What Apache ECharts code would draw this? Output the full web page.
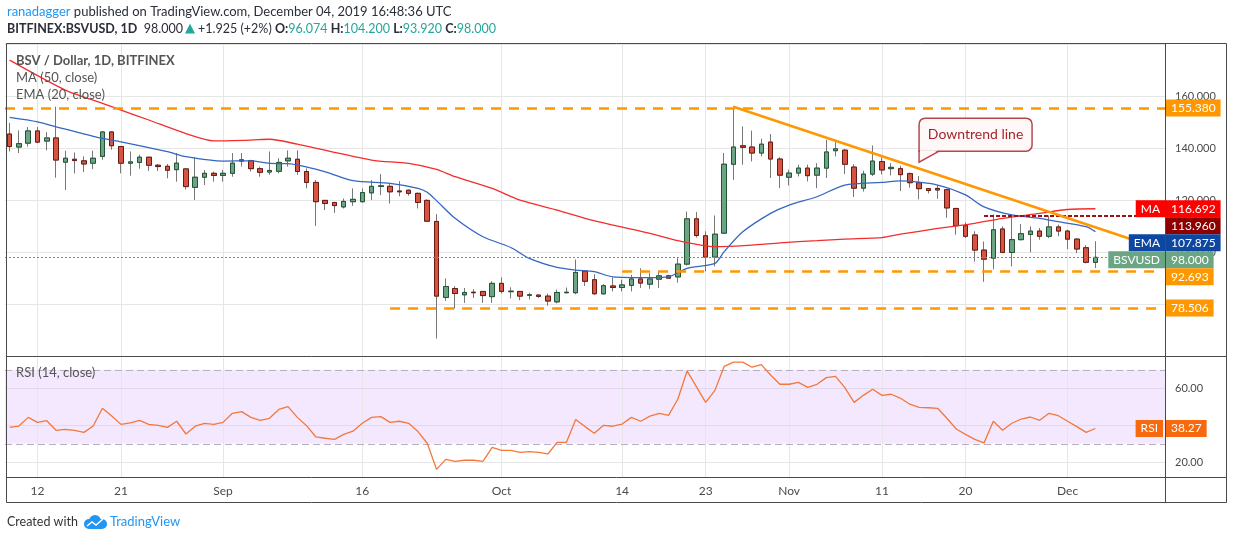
<!DOCTYPE html>
<html>
<head>
<meta charset="utf-8">
<title>BSV / Dollar, 1D</title>
<script src="https://cdn.jsdelivr.net/npm/echarts@6/dist/echarts.min.js"></script>
<style>
  html, body { margin: 0; padding: 0; background: #fff; }
  #chart { width: 1234px; height: 540px; }
</style>
</head>
<body>
<div id="chart"></div>
<script>
// BSV/USD daily candles (Bitfinex), 9 Aug - 4 Dec 2019
const firstDay = Date.UTC(2019, 7, 9);
const emptyDaysAfter = 7;

const opens = [
  145.4,140.4,141.9,146.6,142.7,143.9,134.6,135.7,135.1,134.2,136.8,146.2,140.6,134.2,134.5,136.5,133.4,133.0,131.7,132.0,124.9,128.8,130.3,
  129.5,130.3,135.0,135.2,132.1,130.8,131.1,135.1,135.7,131.0,126.8,119.9,119.1,117.4,119.4,119.4,122.8,125.3,125.3,123.5,123.8,122.6,119.9,111.8,82.6,86.0,83.6,84.6,84.9,82.9,
  88.0,84.8,84.9,83.4,83.5,83.1,80.9,84.4,84.4,92.7,89.4,84.0,87.0,86.4,87.2,89.7,87.7,89.6,90.9,90.5,95.4,112.8,106.3,98.1,107.3,133.8,140.9,140.4,138.1,142.3,135.8,
  128.8,130.4,132.3,129.6,132.3,139.0,139.2,132.7,124.6,130.0,134.8,132.1,132.1,130.2,126.7,124.4,124.5,124.0,116.8,110.2,106.6,100.8,97.7,108.9,99.9,104.8,106.8,108.1,106.1,109.7,
  108.1,105.0,101.7,96.074
];
const highs = [
  149.7,146.8,148.1,148.1,146.1,155.9,139.0,138.3,136.8,139.0,146.5,146.5,140.8,138.7,137.4,136.6,133.9,133.9,138.1,132.1,136.5,131.6,131.0,
  131.6,138.1,138.1,135.5,132.9,138.7,136.1,139.1,139.1,132.2,127.7,120.0,119.2,120.6,124.5,124.5,127.7,130.0,126.4,127.3,124.1,122.9,120.3,114.6,89.9,86.9,86.2,85.8,85.0,88.8,
  90.3,86.5,85.1,84.4,83.6,84.1,85.6,86.4,97.2,92.8,91.5,87.7,90.3,89.4,91.3,93.8,91.9,92.8,91.3,97.7,115.6,115.4,108.0,114.1,138.1,156.0,148.3,146.7,143.6,145.4,136.5,
  131.7,133.6,133.6,134.2,143.2,142.3,139.7,133.8,131.3,141.0,136.4,134.2,133.2,130.6,129.3,124.6,125.7,124.4,117.0,111.5,108.0,104.1,114.5,109.9,113.2,110.8,109.9,109.3,114.1,110.6,
  108.6,105.4,102.7,104.2
];
const lows = [
  138.7,138.1,140.6,141.9,139.1,128.6,123.9,130.3,130.8,131.9,135.5,139.4,130.3,129.4,132.1,131.2,131.2,128.4,127.1,124.1,120.0,125.8,127.1,
  127.1,129.0,132.9,131.0,129.0,129.7,130.3,132.9,129.7,124.5,110.1,116.2,115.1,116.8,117.8,119.0,120.0,121.9,118.7,121.5,121.7,116.8,111.7,66.8,81.3,78.3,80.5,82.4,80.5,80.5,
  84.1,82.2,81.5,81.8,82.4,79.4,80.3,84.1,83.8,87.0,83.6,83.6,84.9,84.9,84.9,86.2,85.9,86.2,89.7,88.3,94.9,105.6,92.6,94.5,107.1,127.8,133.6,134.9,136.8,128.5,124.6,
  125.6,129.1,127.2,124.6,128.5,136.8,130.0,121.2,123.3,129.3,129.9,129.5,123.5,124.8,120.3,122.6,120.5,113.2,106.7,105.4,96.4,88.6,93.4,99.6,94.5,104.5,99.9,104.8,105.4,106.1,
  101.2,99.6,95.7,93.92
];
const closes = [
  140.6,141.7,146.6,142.3,143.9,135.4,136.1,135.2,133.9,136.1,146.2,140.9,134.2,134.7,136.5,133.4,132.9,131.5,134.2,125.2,128.8,130.3,129.5,
  130.3,134.2,135.5,132.1,130.7,131.4,134.5,136.1,131.0,126.8,119.4,118.7,117.9,119.5,120.3,122.9,125.3,125.5,123.2,123.2,122.6,119.1,111.9,83.1,86.8,84.1,84.5,84.4,83.3,88.0,
  84.9,85.0,83.1,83.6,83.0,81.2,84.5,84.6,92.2,88.8,84.0,87.1,86.4,87.4,89.7,88.1,89.7,90.9,90.0,95.4,112.8,106.4,98.1,106.9,133.8,140.4,140.3,138.1,141.5,135.8,129.6,
  130.4,132.3,129.4,132.3,138.5,139.7,133.8,124.6,130.0,135.0,131.6,132.6,129.8,126.7,124.4,123.7,123.9,117.0,110.2,106.1,100.8,97.3,108.6,99.9,104.8,107.1,108.1,106.1,109.7,108.1,
  105.0,101.2,96.075,98.0
];

// MA (50) and EMA (20) at these days
const maDays = ['08-09','08-15','08-19','08-21','08-24','08-28','08-31','09-04','09-06','09-09','09-17','09-21','09-24','09-26','09-30',
  '10-03','10-07','10-10','10-13','10-17','10-20','10-24','10-28','10-31','11-04','11-07','11-11','11-13','11-17','11-21','11-24','11-28','12-01','12-04'];
const maValues = [173.8,162.3,157.2,154.6,150.8,145.6,142.8,143.1,143.4,141.5,135.4,134.1,131.8,129.0,124.5,
  120.0,116.2,113.0,110.4,107.2,104.4,102.1,102.7,103.6,104.4,105.0,105.6,106.9,109.1,111.1,113.0,114.9,116.4,116.692];
const emaDays = ['08-09','08-12','08-14','08-19','08-21','08-26','08-28','09-01','09-04','09-06','09-08','09-12','09-15','09-19','09-22','09-23','09-24','09-26','09-29',
  '10-02','10-04','10-07','10-09','10-11','10-13','10-17','10-19','10-21','10-24','10-25','10-27','10-30',
  '11-01','11-04','11-07','11-11','11-13','11-17','11-20','11-22','11-25','11-28','11-30','12-03','12-04'];
const emaValues = [151.8,150.1,148.2,143.7,142.4,138.6,136.7,135.0,135.1,134.1,134.0,130.9,127.5,126.4,124.5,123.0,119.8,113.0,105.9,
  101.8,97.6,94.1,93.1,92.5,90.5,90.2,90.5,93.8,95.7,100.2,107.8,114.9,
  118.1,121.3,125.8,126.8,127.4,125.8,122.0,117.4,114.3,113.0,111.7,109.8,107.875];

// RSI (14), one value per candle
const rsiValues = [
  38.9,39.6,44.3,41.6,42.5,37.3,37.8,37.3,36.2,39.6,49.2,45.0,40.5,41.3,42.7,40.5,40.0,38.9,42.2,35.3,39.5,41.1,40.5,
  41.6,46.5,47.4,44.3,42.7,43.8,48.6,50.1,44.3,39.8,33.7,33.0,32.4,35.1,36.8,41.1,44.3,44.7,41.6,42.2,41.1,36.6,30.3,16.2,21.6,20.5,21.1,21.1,20.5,28.1,
  26.5,26.5,25.4,25.8,25.4,24.5,30.8,30.8,43.2,39.3,35.7,40.0,39.5,40.7,44.3,42.2,45.0,46.5,45.4,54.1,69.4,60.9,52.4,58.9,71.9,74.2,74.2,71.4,72.8,67.2,62.2,
  62.2,63.2,60.5,62.2,65.8,66.5,60.4,52.4,56.2,59.5,56.2,56.8,54.6,51.4,49.7,49.5,49.2,43.8,38.0,35.1,32.4,30.5,42.2,37.3,41.1,43.4,44.5,42.7,46.5,45.2,
  42.2,39.3,36.2,38.27
];

const tickDates = ['2019-08-12','2019-08-21','2019-09-01','2019-09-16','2019-10-01','2019-10-14','2019-10-23','2019-11-01','2019-11-11','2019-11-20','2019-12-01'];
const tickLabels = ['12','21','Sep','16','Oct','14','23','Nov','11','20','Dec'];

// drawn levels
const resistance = 155.38;
const support = 92.693;
const supportStart = '2019-10-14';
const lowSupport = 78.506;
const lowSupportStart = '2019-09-19';
const overhead = 113.96;
const overheadStart = '2019-11-22';
const trendStart = ['2019-10-26', 155.9];
const trendEnd = ['2019-12-09', 103.6];
const calloutAt = ['2019-11-15', 134.6];

const n = opens.length;
const dates = [];
for (let i = 0; i < n + emptyDaysAfter; i++) {
  dates.push(new Date(firstDay + i * 86400000).toISOString().slice(0, 10));
}
const lastDate = dates[dates.length - 1];
const lastClose = closes[n - 1];
const lastMA = maValues[maValues.length - 1];
const lastEMA = emaValues[emaValues.length - 1];
const lastRSI = rsiValues[n - 1];

const candles = opens.map((o, i) => [o, closes[i], lows[i], highs[i]]);
const bodies = opens.map((o, i) => [o, closes[i], Math.min(o, closes[i]), Math.max(o, closes[i])]);
const pairs = (days, vals) => days.map((d, i) => ['2019-' + d, vals[i]]);

const FONT = 'Lato, "Open Sans", sans-serif';
const GRID_COLOR = '#e6e6e6';
const ORANGE = '#ff9800';

const vLines = tickDates.map(d => ({ xAxis: d }));

const chart = echarts.init(document.getElementById('chart'));

const option = {
  animation: false,
  textStyle: { fontFamily: FONT },
  grid: [
    { left: 5, right: 69, top: 43, height: 313.2 },
    { left: 5, right: 69, top: 358, height: 119 }
  ],
  xAxis: [
    { type: 'category', gridIndex: 0, data: dates, boundaryGap: true,
      axisLine: { show: false }, axisTick: { show: false }, axisLabel: { show: false }, splitLine: { show: false } },
    { type: 'category', gridIndex: 1, data: dates, boundaryGap: true,
      axisLine: { show: false }, axisTick: { show: false }, splitLine: { show: false },
      axisLabel: {
        color: '#4a4a4a', fontSize: 12, margin: 8,
        interval: (i, v) => tickDates.includes(v),
        formatter: v => tickLabels[tickDates.indexOf(v)] || ''
      } }
  ],
  yAxis: [
    { type: 'value', gridIndex: 0, position: 'right', min: 60, max: 180.4, interval: 20, scale: true,
      axisLine: { show: false }, axisTick: { show: false },
      axisLabel: { color: '#4a4a4a', fontSize: 11, margin: 10,
        formatter: v => (v <= 60 || v >= 180) ? '' : v.toFixed(3) },
      splitLine: { lineStyle: { color: GRID_COLOR } } },
    { type: 'value', gridIndex: 1, position: 'right', min: 12.05, max: 76.4,
      axisLine: { show: false }, axisTick: { show: false }, axisLabel: { show: false }, splitLine: { show: false } }
  ],
  series: [
    { // vertical grid, price pane
      type: 'line', xAxisIndex: 0, yAxisIndex: 0, data: [], z: 1, silent: true,
      markLine: { z: 1, silent: true, symbol: ['none', 'none'], label: { show: false },
        lineStyle: { color: GRID_COLOR, type: 'solid', width: 1 }, data: vLines }
    },
    { // vertical + level grid, RSI pane
      type: 'line', xAxisIndex: 1, yAxisIndex: 1, data: [], z: 1, silent: true,
      markArea: { z: 0, silent: true, itemStyle: { color: 'rgba(150, 30, 255, 0.1)' }, data: [[{ yAxis: 30 }, { yAxis: 70 }]] },
      markLine: { z: 1, silent: true, symbol: ['none', 'none'], label: { show: false },
        lineStyle: { color: GRID_COLOR, type: 'solid', width: 1 },
        data: vLines.concat([
          { yAxis: 20 }, { yAxis: 40, lineStyle: { color: '#e2d8ea' } }, { yAxis: 60, lineStyle: { color: '#e2d8ea' } },
          { yAxis: 30, lineStyle: { color: '#b7aebf', type: [7, 4] } },
          { yAxis: 70, lineStyle: { color: '#b7aebf', type: [7, 4] } }
        ]) }
    },
    { // wicks
      name: 'wick', type: 'candlestick', xAxisIndex: 0, yAxisIndex: 0, data: candles, barWidth: 5,
      itemStyle: { color: '#777', color0: '#777', borderColor: '#777', borderColor0: '#777', borderWidth: 1 }
    },
    { // bodies
      name: 'BSVUSD', type: 'candlestick', xAxisIndex: 0, yAxisIndex: 0, data: bodies, barWidth: 5,
      itemStyle: { color: '#6ba583', color0: '#d75442', borderColor: '#225437', borderColor0: '#6b1a12', borderWidth: 1 },
      markLine: {
        silent: true, symbol: ['none', 'none'], label: { show: false },
        data: [
          { yAxis: resistance, lineStyle: { color: ORANGE, width: 2.5, type: [10, 8] } },
          [{ coord: [supportStart, support], lineStyle: { color: ORANGE, width: 2.5, type: [10, 8] } }, { coord: [lastDate, support] }],
          [{ coord: [lowSupportStart, lowSupport], lineStyle: { color: ORANGE, width: 2.5, type: [10, 8] } }, { coord: [lastDate, lowSupport] }],
          [{ coord: [overheadStart, overhead], lineStyle: { color: '#9b1111', width: 2, type: [4, 2] } }, { coord: [lastDate, overhead] }],
          [{ coord: trendStart, lineStyle: { color: ORANGE, width: 2.5, type: 'solid' } }, { coord: trendEnd }],
          { yAxis: lastClose, lineStyle: { color: '#5e9e7c', width: 1, type: [2, 2] } }
        ]
      }
    },
    { name: 'MA (50, close)', type: 'line', xAxisIndex: 0, yAxisIndex: 0, data: pairs(maDays, maValues),
      smooth: 0.25, showSymbol: false, lineStyle: { color: '#f42c2c', width: 1.3 }, z: 3 },
    { name: 'EMA (20, close)', type: 'line', xAxisIndex: 0, yAxisIndex: 0, data: pairs(emaDays, emaValues),
      smooth: 0.25, showSymbol: false, lineStyle: { color: '#3566c2', width: 1.3 }, z: 3 },
    { name: 'RSI (14, close)', type: 'line', xAxisIndex: 1, yAxisIndex: 1, data: rsiValues,
      showSymbol: false, lineStyle: { color: '#f5783a', width: 1.3 }, z: 3 }
  ]
};
chart.setOption(option);

// ---- overlays: frame, texts, price tags ----
function tagText(x, y, text, bg, align) {
  return { type: 'text', x: x, y: y, z: 100,
    style: { text: text, fill: '#fff', backgroundColor: bg, padding: [2, 5, 2, 5], lineHeight: 13,
      font: '12px ' + FONT, align: align, verticalAlign: 'middle' } };
}
function hline(x1, x2, y) {
  return { type: 'line', z: 100, shape: { x1: x1, y1: y, x2: x2, y2: y }, style: { stroke: '#4a4a4a', lineWidth: 1 } };
}
function vline(x, y1, y2) {
  return { type: 'line', z: 100, shape: { x1: x, y1: y1, x2: x, y2: y2 }, style: { stroke: '#4a4a4a', lineWidth: 1 } };
}

const g = [];
// frame
g.push(hline(6.5, 1226.5, 43.5), hline(6.5, 1226.5, 502.5), hline(6.5, 1226.5, 356.5), hline(6.5, 1226.5, 477.5));
g.push(vline(6.5, 43.5, 502.5), vline(1226.5, 43.5, 502.5), vline(1165.5, 43.5, 502.5));

// header
g.push({ type: 'text', x: 7, y: 12, z: 100, style: {
  text: '{u|ranadagger} published on TradingView.com, December 04, 2019 16:48:36 UTC',
  font: '13px ' + FONT, fill: '#2a2e39', verticalAlign: 'middle',
  rich: { u: { fill: '#2196f3', font: '13px ' + FONT } } } });
g.push({ type: 'text', x: 7, y: 29, z: 100, style: {
  text: '{b|BITFINEX:BSVUSD, 1D}  98.000{g|▲} +1.925 (+2%) {b|O:}{t|96.074} {b|H:}{t|104.200} {b|L:}{t|93.920} {b|C:}{t|98.000}',
  font: '12.5px ' + FONT, fill: '#2a2e39', verticalAlign: 'middle',
  rich: {
    b: { font: 'bold 12.5px ' + FONT, fill: '#2a2e39' },
    g: { font: '13px "DejaVu Sans"', fill: '#26a69a', padding: [0, 0, 0, 2] },
    t: { font: '12.5px ' + FONT, fill: '#26a69a' }
  } } });

// pane legends
g.push({ type: 'text', x: 16, y: 61, z: 100, style: { text: 'BSV / Dollar, 1D, BITFINEX', font: 'bold 13px ' + FONT, fill: '#555', verticalAlign: 'middle' } });
g.push({ type: 'text', x: 16, y: 78, z: 100, style: { text: 'MA (50, close)', font: '13px ' + FONT, fill: '#555', verticalAlign: 'middle' } });
g.push({ type: 'text', x: 16, y: 95, z: 100, style: { text: 'EMA (20, close)', font: '13px ' + FONT, fill: '#555', verticalAlign: 'middle' } });
g.push({ type: 'text', x: 16, y: 373, z: 100, style: { text: 'RSI (14, close)', font: '13px ' + FONT, fill: '#555', verticalAlign: 'middle' } });

// footer
g.push({ type: 'text', x: 7, y: 522, z: 100, style: { text: 'Created with', font: '12.5px ' + FONT, fill: '#333', verticalAlign: 'middle' } });
g.push({ type: 'group', x: 83, y: 515, z: 100, children: [
  { type: 'circle', shape: { cx: 6, cy: 9, r: 5 }, style: { fill: '#2196f3' } },
  { type: 'circle', shape: { cx: 12, cy: 6, r: 6 }, style: { fill: '#2196f3' } },
  { type: 'circle', shape: { cx: 19, cy: 9, r: 5 }, style: { fill: '#2196f3' } },
  { type: 'rect', shape: { x: 6, y: 9, width: 13, height: 5 }, style: { fill: '#2196f3' } },
  { type: 'polyline', shape: { points: [[4, 11], [9, 7], [13, 10], [20, 4]] }, style: { stroke: '#fff', lineWidth: 1.5, fill: null } }
] });
g.push({ type: 'text', x: 110, y: 522, z: 100, style: { text: 'TradingView', font: '13px ' + FONT, fill: '#2196f3', verticalAlign: 'middle' } });

// callout
const tip = chart.convertToPixel({ gridIndex: 0 }, calloutAt);
const tx = tip[0], ty = tip[1];
g.push({ type: 'rect', z: 100, shape: { x: tx, y: ty - 44, width: 113, height: 33, r: [6, 6, 6, 0] },
  style: { fill: '#fff8f8', stroke: '#b8474d', lineWidth: 1.5 } });
g.push({ type: 'polygon', z: 101, shape: { points: [[tx + 0.8, ty - 12], [tx + 0.8, ty - 1], [tx + 19, ty - 12]] }, style: { fill: '#fff8f8' } });
g.push({ type: 'polyline', z: 101, shape: { points: [[tx, ty - 12], [tx, ty], [tx + 20, ty - 11]] }, style: { stroke: '#b8474d', lineWidth: 1.5, fill: null } });
g.push({ type: 'text', x: tx + 56.5, y: ty - 27.5, z: 102, style: { text: 'Downtrend line', font: '14px ' + FONT, fill: '#a3262c', align: 'center', verticalAlign: 'middle' } });

// price tags, stacked like the platform does
const tags = [
  { v: resistance, text: resistance.toFixed(3), bg: ORANGE },
  { v: lastMA, text: lastMA.toFixed(3), bg: '#ff0000', tag: 'MA' },
  { v: overhead, text: overhead.toFixed(3), bg: '#8e0000' },
  { v: lastEMA, text: lastEMA.toFixed(3), bg: '#0d47a1', tag: 'EMA' },
  { v: lastClose, text: lastClose.toFixed(3), bg: '#6ba583', tag: 'BSVUSD' },
  { v: support, text: support.toFixed(3), bg: ORANGE },
  { v: lowSupport, text: lowSupport.toFixed(3), bg: ORANGE }
];
tags.forEach(t => { t.y = chart.convertToPixel({ yAxisIndex: 0 }, t.v); });
tags.sort((a, b) => a.y - b.y);
let prevY = -1e9;
tags.forEach(t => {
  t.y = Math.max(t.y, prevY + 17);
  prevY = t.y;
  g.push(tagText(1166, t.y, t.text, t.bg, 'left'));
  if (t.tag) g.push(tagText(1165, t.y, t.tag, t.bg, 'right'));
});

// RSI axis labels and tag
[60, 20].forEach(v => {
  g.push({ type: 'text', x: 1175, y: chart.convertToPixel({ yAxisIndex: 1 }, v), z: 100,
    style: { text: v.toFixed(2), font: '11px ' + FONT, fill: '#4a4a4a', verticalAlign: 'middle' } });
});
const rsiY = chart.convertToPixel({ yAxisIndex: 1 }, lastRSI);
g.push(tagText(1166, rsiY, lastRSI.toFixed(2), '#f6690f', 'left'));
g.push(tagText(1163, rsiY, 'RSI', '#f6690f', 'right'));

chart.setOption({ graphic: g });
</script>
</body>
</html>
